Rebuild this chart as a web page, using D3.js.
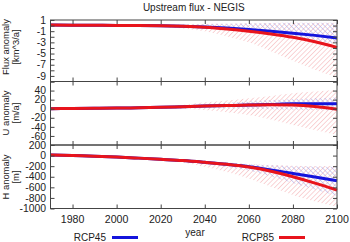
<!DOCTYPE html>
<html>
<head>
<meta charset="utf-8">
<script src="https://cdn.jsdelivr.net/npm/d3@7"></script>
<style>
  body { margin: 0; background: #fff; }
  svg { display: block; font-family: "Liberation Sans", Arial, sans-serif; }
  text { fill: #222; }
</style>
</head>
<body>
<svg id="chart" width="350" height="242"></svg>
<script>
// data
const years = [1970, 1980, 1990, 2000, 2010, 2020, 2030, 2040, 2050, 2060, 2070, 2080, 2090, 2100];
const rangeYears = [2010, 2020, 2030, 2040, 2050, 2060, 2070, 2080, 2090, 2100];

const flux45 = [0.1, 0.08, 0.05, 0.02, 0, -0.05, -0.12, -0.25, -0.45, -0.7, -1.0, -1.35, -1.75, -2.2];
const flux85 = [0.1, 0.08, 0.05, 0.02, 0, -0.05, -0.14, -0.3, -0.6, -1.0, -1.5, -2.1, -2.9, -3.9];
const flux45Hi = [0, 0.1, 0.2, 0.3, 0.35, 0.4, 0.45, 0.5, 0.5, 0.5];
const flux45Lo = [-0.05, -0.12, -0.25, -0.5, -0.8, -1.2, -1.7, -2.2, -2.7, -3.2];
const flux85Hi = [0, 0.1, 0.2, 0.3, 0.35, 0.4, 0.45, 0.5, 0.5, 0.5];
const flux85Lo = [-0.05, -0.2, -0.5, -1.0, -1.9, -3.0, -4.6, -6.3, -7.9, -9.3];

const u45 = [0, 0.5, 1, 1.5, 2, 3, 4.5, 6, 7, 8, 9.5, 11, 11, 11];
const u85 = [0, 0.5, 1, 1.5, 2, 3, 4.5, 6, 7, 8, 8.5, 8, 5, -1];
const u45Hi = [2, 4, 7, 10, 13, 16, 19, 21, 23, 25];
const u45Lo = [2, 2, 2, 2, 1, 0, -1, -2, -3, -4];
const u85Hi = [2, 4, 8, 14, 18, 23, 28, 34, 38, 42];
const u85Lo = [2, 1, 0, -3, -8, -14, -24, -36, -47, -58];

const h45 = [10, 0, -12, -27, -48, -71, -95, -128, -165, -211, -270, -337, -405, -476];
const h85 = [10, 0, -12, -27, -48, -71, -95, -128, -165, -215, -295, -400, -520, -652];
const h45Hi = [-48, -60, -75, -100, -130, -165, -185, -200, -205, -210];
const h45Lo = [-48, -75, -110, -160, -215, -280, -390, -520, -640, -760];
const h85Hi = [-48, -60, -75, -100, -130, -160, -180, -190, -195, -190];
const h85Lo = [-48, -80, -130, -211, -310, -432, -590, -747, -870, -968];

const xTicks = [1980, 2000, 2020, 2040, 2060, 2080, 2100];
const fluxTicks = [1, -1, -3, -5, -7, -9];
const uTicks = [40, 20, 0, -20, -40, -60];
const hTicks = [200, 0, -200, -400, -600, -800, -1000];
const seriesNames = ["RCP45", "RCP85"];

const blue = "#1414dc", red = "#e8141c";
const svg = d3.select("#chart");

const x = d3.scaleLinear().domain([1970, 2100]).range([50.5, 337]);

// hatch patterns
const defs = svg.append("defs");
function hatch(id, color, angle) {
  defs.append("pattern")
    .attr("id", id)
    .attr("patternUnits", "userSpaceOnUse")
    .attr("width", 3.4).attr("height", 3.4)
    .attr("patternTransform", `rotate(${angle})`)
    .append("line")
    .attr("x1", 0).attr("y1", 0).attr("x2", 0).attr("y2", 3.4)
    .attr("stroke", color).attr("stroke-width", 0.9);
}
hatch("hatchRed", "#f2a0a4", 45);
hatch("hatchBlue", "#9a9ae6", -45);

const panels = [
  { top: 20, bottom: 81.5, domain: [-10, 1], ticks: fluxTicks, minor: d3.range(-10, 1.5, 1),
    label: ["Flux anomaly", "[km^3/a]"], labelY: 47, s45: flux45, s85: flux85,
    r45: [flux45Lo, flux45Hi], r85: [flux85Lo, flux85Hi] },
  { top: 81.5, bottom: 145, domain: [-80, 60], ticks: uTicks, minor: d3.range(-80, 61, 20),
    label: ["U anomaly", "[m/a]"], labelY: 113, s45: u45, s85: u85,
    r45: [u45Lo, u45Hi], r85: [u85Lo, u85Hi] },
  { top: 145, bottom: 208.5, domain: [-1000, 200], ticks: hTicks, minor: d3.range(-1000, 201, 200),
    label: ["H anomaly", "[m]"], labelY: 177, s45: h45, s85: h85,
    r45: [h45Lo, h45Hi], r85: [h85Lo, h85Hi] }
];

panels.forEach(p => {
  const y = d3.scaleLinear().domain(p.domain).range([p.bottom, p.top]);
  const g = svg.append("g");

  const area = d3.area()
    .x((d, i) => x(rangeYears[i]))
    .y0(d => y(d[0]))
    .y1(d => y(d[1]))
    .curve(d3.curveMonotoneX);
  const line = d3.line()
    .x((d, i) => x(years[i]))
    .y(d => y(d))
    .curve(d3.curveMonotoneX);

  g.append("path")
    .datum(d3.zip(p.r85[0], p.r85[1]))
    .attr("d", area)
    .attr("fill", "url(#hatchRed)");
  g.append("path")
    .datum(d3.zip(p.r45[0], p.r45[1]))
    .attr("d", area)
    .attr("fill", "url(#hatchBlue)");

  g.append("path").datum(p.s45).attr("d", line)
    .attr("fill", "none").attr("stroke", blue).attr("stroke-width", 3);
  g.append("path").datum(p.s85).attr("d", line)
    .attr("fill", "none").attr("stroke", red).attr("stroke-width", 3);

  // frame
  g.append("rect")
    .attr("x", x.range()[0]).attr("y", p.top)
    .attr("width", x.range()[1] - x.range()[0]).attr("height", p.bottom - p.top)
    .attr("fill", "none").attr("stroke", "#444").attr("stroke-width", 1);

  // inward ticks on all sides
  const axL = d3.axisRight(y).tickValues(p.minor).tickSize(4).tickFormat("");
  const axR = d3.axisLeft(y).tickValues(p.minor).tickSize(4).tickFormat("");
  g.append("g").attr("transform", `translate(${x.range()[0]},0)`).call(axL);
  g.append("g").attr("transform", `translate(${x.range()[1]},0)`).call(axR);
  const axT = d3.axisBottom(x).tickValues(xTicks).tickSize(4).tickFormat("");
  const axB = d3.axisTop(x).tickValues(xTicks).tickSize(4).tickFormat("");
  g.append("g").attr("transform", `translate(0,${p.top})`).call(axT);
  g.append("g").attr("transform", `translate(0,${p.bottom})`).call(axB);
  g.selectAll(".domain").remove();
  g.selectAll(".tick line").attr("stroke", "#444");

  // tick labels
  g.selectAll(".ylab")
    .data(p.ticks)
    .enter()
    .append("text")
    .attr("x", 46)
    .attr("y", d => y(d) + 3.7)
    .attr("text-anchor", "end")
    .attr("font-size", 10.4)
    .text(d => d);

  p.label.forEach((t, i) => {
    g.append("text")
      .attr("transform", `translate(${9 + i * 10},${p.labelY}) rotate(-90)`)
      .attr("text-anchor", "middle")
      .attr("font-size", 9.4)
      .text(t);
  });
});

svg.selectAll(".xlab")
  .data(xTicks)
  .enter()
  .append("text")
  .attr("x", d => x(d))
  .attr("y", 222.5)
  .attr("text-anchor", "middle")
  .attr("font-size", 10.6)
  .text(d => d);

svg.append("text")
  .attr("x", (x.range()[0] + x.range()[1]) / 2)
  .attr("y", 11)
  .attr("text-anchor", "middle")
  .attr("font-size", 10)
  .text("Upstream flux - NEGIS");

svg.append("text")
  .attr("x", 195).attr("y", 236)
  .attr("text-anchor", "middle")
  .attr("font-size", 10)
  .text("year");

// legend
const legendPos = [{ tx: 106, lx: 112 }, { tx: 274, lx: 279 }];
seriesNames.forEach((name, i) => {
  const lp = legendPos[i];
  svg.append("text")
    .attr("x", lp.tx).attr("y", 241)
    .attr("text-anchor", "end")
    .attr("font-size", 10)
    .text(name);
  svg.append("line")
    .attr("x1", lp.lx).attr("x2", lp.lx + 26)
    .attr("y1", 237.5).attr("y2", 237.5)
    .attr("stroke", i === 0 ? blue : red)
    .attr("stroke-width", 3);
});
</script>
</body>
</html>
